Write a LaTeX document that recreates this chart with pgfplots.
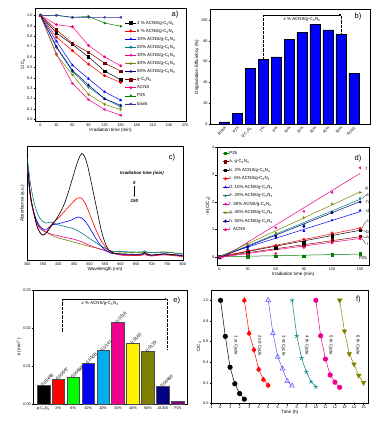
\documentclass[border=0pt]{standalone}
\usepackage{pgfplots}
\pgfplotsset{compat=1.18}
\usepackage{fontspec}
\setmainfont{Liberation Sans}
\usetikzlibrary{arrows.meta}
\definecolor{cteal}{RGB}{0,128,128}
\definecolor{colive}{RGB}{128,128,0}
\definecolor{cnavy}{RGB}{0,0,128}
\definecolor{cdred}{RGB}{128,0,0}
\definecolor{cpink}{RGB}{255,0,128}
\definecolor{cgreen}{RGB}{0,128,0}
\definecolor{cblank}{RGB}{51,51,170}
\definecolor{cpurple}{RGB}{128,0,128}
\definecolor{cltblue}{RGB}{90,90,255}
\newcommand{\fTk}{\fontsize{3.8}{4.2}\selectfont}
\newcommand{\fLb}{\fontsize{4.6}{5}\selectfont}
\newcommand{\fLg}{\fontsize{4.4}{5}\selectfont}
\newcommand{\fPl}{\fontsize{7.5}{8}\selectfont}
\newcommand{\gcn}{g-C\textsubscript{3}N\textsubscript{4}}
\pgfplotsset{
  base/.style={scale only axis,
    axis line style={line width=0.4pt},
    tick align=outside, tick pos=left, major tick length=1.5pt,
    tick style={line width=0.3pt, black},
    ticklabel style={font=\fTk, inner sep=0.8pt},
    label style={font=\fLb},
    /pgf/number format/assume math mode=true,
    every axis plot/.append style={line width=0.5pt},
    xlabel style={inner sep=1pt}, ylabel style={inner sep=1pt},
  },
}
\begin{document}
\begin{tikzpicture}
\useasboundingbox (0pt,0pt) rectangle (375pt,430pt);

% ---------------- panel a ----------------
\begin{axis}[base, at={(35pt,309pt)}, anchor=south west, width=151pt, height=113pt,
  xmin=-10, xmax=272, ymin=-0.015, ymax=1.07,
  xtick={0,30,60,90,120,150,180,210,240,270},
  ytick={0,0.1,0.2,0.3,0.4,0.5,0.6,0.7,0.8,0.9,1.0},
  yticklabel style={/pgf/number format/.cd, fixed, fixed zerofill, precision=1},
  xlabel={Irradiation time (min)}, ylabel={C/C\textsubscript{0}},
  legend cell align=left,
  legend style={at={(0.595,0.895)}, anchor=north west, draw=none, fill=none,
    font=\fLg, inner sep=0pt, row sep=2.5pt,
    nodes={inner sep=0.6pt, text height=3.4pt, text depth=1pt}},
  legend image code/.code={\draw[#1] (0pt,0pt) -- (11pt,0pt); \draw[#1] plot coordinates {(5.5pt,0pt)};},
  every axis plot/.append style={mark size=1.2pt},
]
\addplot[black, mark=square*] coordinates {(0,1)(30,0.83)(60,0.72)(90,0.60)(120,0.465)(150,0.38)};
\addlegendentry{2 \% ACNS/\gcn}
\addplot[red, mark=*] coordinates {(0,1)(30,0.79)(60,0.66)(90,0.53)(120,0.42)(150,0.355)};
\addlegendentry{6 \% ACNS/\gcn}
\addplot[blue, mark=triangle*] coordinates {(0,1)(30,0.75)(60,0.52)(90,0.39)(120,0.265)(150,0.185)};
\addlegendentry{10\% ACNS/\gcn}
\addplot[cteal, mark=triangle*, mark options={rotate=180}] coordinates {(0,1)(30,0.69)(60,0.46)(90,0.31)(120,0.20)(150,0.12)};
\addlegendentry{20\% ACNS/\gcn}
\addplot[magenta, mark=triangle*, mark options={rotate=90}] coordinates {(0,1)(30,0.63)(60,0.345)(90,0.19)(120,0.095)(150,0.04)};
\addlegendentry{30\% ACNS/\gcn}
\addplot[colive, mark=triangle*, mark options={rotate=180}] coordinates {(0,1)(30,0.62)(60,0.43)(90,0.24)(120,0.145)(150,0.095)};
\addlegendentry{40\% ACNS/\gcn}
\addplot[cnavy, mark=triangle*] coordinates {(0,1)(30,0.70)(60,0.47)(90,0.33)(120,0.198)(150,0.135)};
\addlegendentry{50\% ACNS/\gcn}
\addplot[cdred, mark=square*] coordinates {(0,1)(30,0.86)(60,0.73)(90,0.645)(120,0.54)(150,0.465)};
\addlegendentry{\gcn}
\addplot[cpink, mark=*] coordinates {(0,1)(30,0.91)(60,0.89)(90,0.71)(120,0.60)(150,0.515)};
\addlegendentry{ACNS}
\addplot[cgreen, mark=triangle*, mark options={rotate=-90}] coordinates {(0,1)(30,1.0)(60,0.98)(90,0.99)(120,0.925)(150,0.895)};
\addlegendentry{P25}
\addplot[cblank, mark=triangle*, mark options={rotate=90}] coordinates {(0,1)(30,1.0)(60,0.98)(90,0.98)(120,0.98)(150,0.98)};
\addlegendentry{blank}
\end{axis}
\node[font=\fPl] at (175pt,415pt) {a)};

% ---------------- panel b ----------------
\begin{axis}[base, at={(210pt,306pt)}, anchor=south west, width=160pt, height=114.3pt,
  xmin=-1.1, xmax=11.25, ymin=0, ymax=110,
  ytick={0,20,40,60,80,100}, xtick={0,1,2,3,4,5,6,7,8,9,10},
  xticklabels={Blank,P25,\gcn,2\%,6\%,10\%,20\%,30\%,40\%,50\%,ACNS},
  xticklabel style={rotate=45, anchor=north east, inner sep=0.5pt},
  ylabel={Degradation Efficiency (\%)},
  ybar, bar width=10pt, clip=false,
]
\addplot[fill=blue, draw=black, line width=0.3pt] coordinates {(0,2)(1,10.5)(2,53.5)(3,62)(4,64.5)(5,81.5)(6,88)(7,96)(8,90.5)(9,86.5)(10,48.5)};
\draw[densely dotted, line width=0.3pt] (axis cs:3,62) -- (axis cs:3,105);
\draw[densely dotted, line width=0.3pt] (axis cs:9,86.5) -- (axis cs:9,105);
\draw[line width=0.4pt, -{Square[length=1.6pt,width=1.6pt]}] (axis cs:3,105) -- (axis cs:9,105);
\node[font=\fLg] at (axis cs:6,100.5) {\textit{x} \% ACNS/\gcn};
\end{axis}
\node[font=\fPl] at (358pt,413pt) {b)};

% ---------------- panel c ----------------
\begin{axis}[base, at={(27.3pt,170pt)}, anchor=south west, width=155.4pt, height=113.3pt,
  xmin=300, xmax=800, ymin=0, ymax=1,
  ytick=\empty, xtick={300,350,400,450,500,550,600,650,700,750,800},
  xlabel={Wavelength (nm)}, ylabel={Absorbance (a.u.)},
  every axis plot/.append style={smooth, no marks, line width=0.6pt},
]
\addplot[colive] coordinates {(300,0.85)(310,0.57)(320,0.43)(330,0.34)(340,0.29)(350,0.265)(360,0.25)(380,0.215)(400,0.195)(420,0.18)(440,0.165)(460,0.15)(480,0.135)(500,0.12)(530,0.10)(560,0.08)(600,0.07)(650,0.065)(670,0.068)(677,0.075)(685,0.066)(700,0.065)(740,0.072)(760,0.068)(800,0.05)};
\addplot[magenta] coordinates {(300,0.82)(310,0.56)(320,0.42)(330,0.33)(340,0.28)(350,0.26)(360,0.245)(370,0.235)(380,0.225)(400,0.215)(420,0.20)(440,0.19)(460,0.175)(480,0.155)(500,0.13)(530,0.10)(560,0.075)(600,0.045)(650,0.04)(670,0.045)(677,0.055)(685,0.045)(700,0.04)(740,0.055)(760,0.05)(800,0.04)};
\addplot[cteal] coordinates {(300,0.90)(310,0.68)(320,0.53)(330,0.43)(340,0.37)(350,0.34)(360,0.325)(375,0.335)(390,0.32)(400,0.31)(430,0.29)(450,0.275)(470,0.245)(485,0.22)(500,0.19)(520,0.155)(540,0.12)(570,0.08)(600,0.075)(650,0.07)(670,0.072)(677,0.08)(685,0.07)(700,0.065)(740,0.068)(800,0.055)};
\addplot[blue] coordinates {(300,0.81)(310,0.56)(320,0.43)(330,0.35)(340,0.30)(350,0.275)(360,0.265)(370,0.29)(380,0.31)(400,0.32)(420,0.335)(440,0.35)(455,0.372)(465,0.38)(475,0.37)(490,0.33)(510,0.24)(530,0.15)(550,0.09)(570,0.06)(600,0.05)(650,0.045)(670,0.05)(677,0.06)(685,0.048)(700,0.04)(740,0.05)(800,0.035)};
\addplot[red] coordinates {(300,0.84)(310,0.56)(320,0.42)(330,0.31)(340,0.245)(350,0.22)(360,0.24)(370,0.28)(380,0.32)(400,0.37)(420,0.43)(440,0.49)(460,0.545)(470,0.55)(480,0.53)(490,0.48)(500,0.41)(520,0.27)(540,0.16)(560,0.09)(575,0.065)(600,0.045)(650,0.04)(670,0.045)(677,0.055)(685,0.042)(700,0.035)(740,0.045)(800,0.03)};
\addplot[black] coordinates {(300,0.87)(310,0.58)(320,0.43)(330,0.31)(340,0.245)(350,0.22)(360,0.235)(370,0.27)(380,0.31)(400,0.39)(420,0.50)(440,0.67)(455,0.81)(465,0.89)(475,0.94)(485,0.91)(495,0.82)(510,0.63)(525,0.43)(540,0.24)(555,0.12)(565,0.08)(580,0.06)(600,0.055)(650,0.05)(670,0.055)(677,0.068)(685,0.055)(700,0.045)(740,0.055)(760,0.05)(800,0.04)};
\end{axis}
\node[font=\fPl] at (172pt,272pt) {c)};
\node[font=\fLg\bfseries\itshape] at (142pt,257pt) {Irradiation time (min)};
\node[font=\fLg\bfseries\itshape] at (134.3pt,247pt) {0};
\draw[line width=0.4pt, -{Latex[length=1.5pt,width=1.3pt]}] (134.3pt,244pt) -- (134.3pt,233pt);
\node[font=\fLg\bfseries\itshape] at (134.3pt,229pt) {150};

% ---------------- panel d ----------------
\begin{axis}[base, at={(216.7pt,165pt)}, anchor=south west, width=152.8pt, height=117.7pt,
  xmin=-3, xmax=160, ymin=-0.3, ymax=4,
  xtick={0,30,60,90,120,150}, ytick={0,1,2,3,4},
  xlabel={Irradiation time (min)}, ylabel={-ln(C/C\textsubscript{0})},
  clip=false,
  legend cell align=left,
  legend style={at={(0.035,0.975)}, anchor=north west, draw=none, fill=none,
    font=\fLg, inner sep=0pt, row sep=2.9pt,
    nodes={inner sep=0.6pt, text height=3.4pt, text depth=1pt}},
  legend image code/.code={\draw[#1] (0pt,0pt) -- (6pt,0pt); \draw[#1] plot coordinates {(3pt,0pt)};},
  every axis plot/.append style={mark size=1.2pt},
]
\addplot[cgreen, only marks, mark=square*] coordinates {(0,0)(30,0)(60,0.02)(90,0.01)(120,0.078)(150,0.11)};
\addlegendentry{P25}
\addplot[cdred, only marks, mark=square*] coordinates {(0,0)(30,0.15)(60,0.31)(90,0.44)(120,0.62)(150,0.75)};
\addlegendentry{a. \gcn}
\addplot[black, only marks, mark=square*] coordinates {(0,0)(30,0.19)(60,0.33)(90,0.51)(120,0.77)(150,0.97)};
\addlegendentry{b. 2\% ACNS/\gcn}
\addplot[red, only marks, mark=*] coordinates {(0,0)(30,0.236)(60,0.416)(90,0.635)(120,0.868)(150,1.036)};
\addlegendentry{c. 6\% ACNS/\gcn}
\addplot[blue, only marks, mark=triangle*] coordinates {(0,0)(30,0.29)(60,0.69)(90,0.94)(120,1.33)(150,1.69)};
\addlegendentry{d. 10\% ACNS/\gcn}
\addplot[cteal, only marks, mark=triangle*, mark options={rotate=180}] coordinates {(0,0)(30,0.37)(60,0.78)(90,1.17)(120,1.61)(150,2.13)};
\addlegendentry{e. 20\% ACNS/\gcn}
\addplot[magenta, only marks, mark=triangle*, mark options={rotate=90}] coordinates {(0,0)(30,0.46)(60,1.06)(90,1.66)(120,2.35)(150,3.25)};
\addlegendentry{f. 30\% ACNS/\gcn}
\addplot[colive, only marks, mark=triangle*, mark options={rotate=-90}] coordinates {(0,0)(30,0.48)(60,0.87)(90,1.43)(120,1.93)(150,2.35)};
\addlegendentry{g. 40\% ACNS/\gcn}
\addplot[cnavy, only marks, mark=*] coordinates {(0,0)(30,0.36)(60,0.755)(90,1.11)(120,1.62)(150,2.0)};
\addlegendentry{h. 50\% ACNS/\gcn}
\addplot[cpink, only marks, mark=*] coordinates {(0,0)(30,0.094)(60,0.117)(90,0.34)(120,0.51)(150,0.66)};
\addlegendentry{i. ACNS}
\addplot[cgreen, forget plot] coordinates {(0,0)(150,0.10)};
\addplot[cdred, forget plot] coordinates {(0,0)(150,0.735)};
\addplot[black, forget plot] coordinates {(0,0)(150,0.97)};
\addplot[red, forget plot] coordinates {(0,0)(150,1.05)};
\addplot[blue, forget plot] coordinates {(0,0.03)(150,1.65)};
\addplot[cteal, forget plot] coordinates {(0,-0.02)(150,2.1)};
\addplot[magenta, forget plot] coordinates {(0,-0.1)(150,3.05)};
\addplot[colive, forget plot] coordinates {(0,0)(150,2.37)};
\addplot[cnavy, forget plot] coordinates {(0,-0.03)(150,2.02)};
\addplot[cpink, forget plot] coordinates {(0,-0.02)(150,0.67)};
\draw[line width=0.25pt] (axis cs:152,2.13) -- (axis cs:156,2.24);
\draw[line width=0.25pt] (axis cs:152,1.05) -- (axis cs:156,1.29);
\draw[line width=0.25pt] (axis cs:152,0.97) -- (axis cs:156,0.92);
\draw[line width=0.25pt] (axis cs:152,0.74) -- (axis cs:156,0.70);
\draw[line width=0.25pt] (axis cs:152,0.66) -- (axis cs:156,0.48);
\node[font=\fLg] at (axis cs:157,3.2) {f};
\node[font=\fLg] at (axis cs:157,2.5) {g};
\node[font=\fLg] at (axis cs:158,2.24) {e};
\node[font=\fLg] at (axis cs:158,1.99) {h};
\node[font=\fLg] at (axis cs:158,1.67) {d};
\node[font=\fLg] at (axis cs:158,1.29) {c};
\node[font=\fLg] at (axis cs:158,0.92) {b};
\node[font=\fLg] at (axis cs:158,0.70) {a};
\node[font=\fLg] at (axis cs:158,0.47) {i};
\node[font=\fLg] at (axis cs:153,-0.05) {P25};
\end{axis}
\node[font=\fPl] at (358pt,271pt) {d)};

% ---------------- panel e ----------------
\begin{axis}[base, at={(33.3pt,26pt)}, anchor=south west, width=153.7pt, height=114pt,
  xmin=-0.67, xmax=9.62, ymin=0, ymax=0.03,
  ytick={0,0.01,0.02,0.03}, scaled y ticks=false,
  yticklabel style={/pgf/number format/.cd, fixed, fixed zerofill, precision=2},
  xtick={0,1,2,3,4,5,6,7,8,9},
  xticklabels={\gcn,2\%,6\%,10\%,20\%,30\%,40\%,50\%,ACNS,P25},
  ylabel={\textit{k} (min\textsuperscript{-1})},
  ybar, bar width=12.7pt, bar shift=0pt, clip=false,
  nodes near coords, point meta=explicit symbolic,
  every node near coord/.append style={rotate=45, anchor=west, font=\fLg, inner sep=0.5pt, xshift=-2pt, yshift=1pt},
  every axis plot/.append style={draw=black!70, line width=0.3pt},
]
\addplot[fill=black] coordinates {(0,0.0049) [0.00490]};
\addplot[fill=red] coordinates {(1,0.00647) [0.00647]};
\addplot[fill=green] coordinates {(2,0.00698) [0.00698]};
\addplot[fill=blue] coordinates {(3,0.0108) [0.0108]};
\addplot[fill=cyan] coordinates {(4,0.0141) [0.0141]};
\addplot[fill=magenta] coordinates {(5,0.0216) [0.0216]};
\addplot[fill=yellow] coordinates {(6,0.0160) [0.0160]};
\addplot[fill=colive] coordinates {(7,0.0139) [0.0139]};
\addplot[fill=cnavy] coordinates {(8,0.0046) [0.00460]};
\addplot[fill=cpurple] coordinates {(9,0.0007) []};
\draw[densely dotted, line width=0.3pt] (axis cs:1.25,0.019) -- (axis cs:1.25,0.0276);
\draw[densely dotted, line width=0.3pt] (axis cs:8.3,0.0145) -- (axis cs:8.3,0.0276);
\draw[line width=0.4pt, -{Latex[length=2.5pt,width=2pt]}] (axis cs:1.25,0.0276) -- (axis cs:8.3,0.0276);
\node[font=\fLg] at (axis cs:3.8,0.0264) {\textit{x} \% ACNS/\gcn};
\end{axis}
\node[font=\fPl] at (176.7pt,129pt) {e)};

% ---------------- panel f ----------------
\begin{axis}[base, at={(211pt,26.7pt)}, anchor=south west, width=157.3pt, height=113.3pt,
  xmin=-1, xmax=15.5, ymin=0, ymax=1.1,
  xtick={-1,0,1,2,3,4,5,6,7,8,9,10,11,12,13,14,15},
  ytick={0,0.2,0.4,0.6,0.8,1.0},
  yticklabel style={/pgf/number format/.cd, fixed, fixed zerofill, precision=1},
  xlabel={Time (h)}, ylabel={C/C\textsubscript{0}},
  clip=false,
  every axis plot/.append style={mark size=2.3pt, line width=0.5pt},
]
\addplot[black, mark=*] coordinates {(0,1.0)(0.5,0.65)(1,0.35)(1.5,0.19)(2,0.095)(2.5,0.04)};
\addplot[red, mark=diamond, mark size=2.6pt] coordinates {(2.5,1.0)(3,0.68)(3.5,0.52)(4,0.33)(4.5,0.23)(5,0.175)};
\addplot[red, only marks, mark=triangle*, mark size=2.1pt, forget plot] coordinates {(2.5,1.0)(3,0.68)(3.5,0.52)(4,0.33)(4.5,0.23)(5,0.175)};
\addplot[cltblue, mark=triangle, mark size=2.8pt] coordinates {(5,1.0)(5.5,0.68)(6,0.45)(6.5,0.335)(7,0.215)(7.5,0.17)};
\addplot[cteal, mark=star, mark size=2.4pt] coordinates {(7.5,1.0)(8,0.655)(8.5,0.44)(9,0.305)(9.5,0.21)(10,0.16)};
\addplot[magenta, mark=*] coordinates {(10,1.0)(10.5,0.655)(11,0.43)(11.5,0.275)(12,0.205)(12.5,0.155)};
\addplot[colive, mark=triangle*, mark options={rotate=180}, mark size=2.6pt] coordinates {(12.5,1.0)(13,0.70)(13.5,0.48)(14,0.38)(14.5,0.27)(15,0.20)};
\node[font=\fLg, rotate=-90] at (axis cs:1.6,0.56) {1 st Cycle};
\node[font=\fLg, rotate=-90] at (axis cs:4.1,0.56) {2 nd Cycle};
\node[font=\fLg, rotate=-90] at (axis cs:6.6,0.56) {3 rd Cycle};
\node[font=\fLg, rotate=-90] at (axis cs:9.05,0.56) {4 th Cycle};
\node[font=\fLg, rotate=-90] at (axis cs:11.55,0.56) {5 th Cycle};
\node[font=\fLg, rotate=-90] at (axis cs:14.4,0.56) {6 th Cycle};
\end{axis}
\node[font=\fPl] at (358.3pt,130pt) {f)};
\end{tikzpicture}
\end{document}
